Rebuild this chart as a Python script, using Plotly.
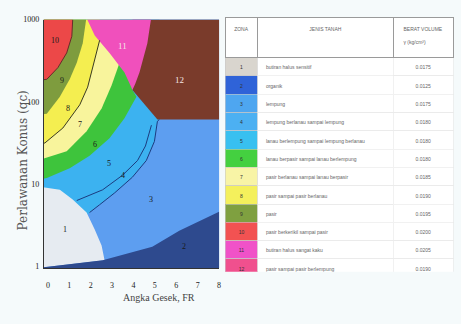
import math
import plotly.graph_objects as go

# ---- Soil behaviour zones: boundary outlines in (friction ratio FR, cone resistance qc) ----
zone3_x = [-0.3, 8.3, 8.3, -0.3]
zone3_y = [0.8, 0.8, 1100, 1100]

zone45_x = [5.21, 5.12, 4.98, 4.60, 3.95, 3.12, 2.42, 1.95, 1.5, -0.3, -0.3, 5.21]
zone45_y = [61, 58, 33, 19.3, 12.1, 7.8, 5.6, 4.5, 3.5, 3.5, 1100, 1100]

zone6_x = [3.95, 4.14, 3.58, 2.88, 1.95, 1.02, -0.05, -0.3, -0.3, 3.95]
zone6_y = [139, 115, 63, 36, 22, 15.5, 11.8, 11.5, 1100, 1100]

zone7_x = [3.35, 2.98, 2.51, 1.81, 0.88, -0.14, -0.3, -0.3, 3.35]
zone7_y = [299, 159, 83, 44, 25, 20.5, 20, 1100, 1100]

zone8_x = [2.42, 2.09, 1.86, 1.49, 0.70, -0.14, -0.3, -0.3, 2.42]
zone8_y = [562, 261, 151, 92, 48, 31.6, 31, 1100, 1100]

zone9_x = [1.81, 1.63, 1.35, 1.02, 0.56, -0.05, -0.3, -0.3, 1.81]
zone9_y = [1100, 518, 299, 188, 115, 71.7, 70, 1100, 1100]

zone10_x = [1.16, 1.12, 0.88, 0.47, -0.05, -0.3, -0.3, 1.16]
zone10_y = [1100, 628, 394, 261, 188, 185, 1100, 1100]

zone12_x = [3.95, 5.12, 8.3, 8.3, 3.95]
zone12_y = [139, 61, 61, 1100, 1100]

zone11_x = [1.77, 2.19, 2.88, 3.58, 3.85, 3.95, 4.08, 4.28, 4.65, 4.84, 1.77]
zone11_y = [1100, 640, 394, 228, 160, 139, 165, 228, 518, 1100, 1100]

zone1_x = [-0.3, 0.56, 1.16, 1.81, 2.19, 2.51, 2.65, -0.19, -0.3]
zone1_y = [9.2, 8.5, 6.5, 4.5, 2.8, 1.78, 1.18, 0.97, 0.9]

zone2_x = [-0.3, -0.19, 2.56, 3.67, 4.88, 6.14, 8.0, 8.3, 8.3, -0.3]
zone2_y = [0.96, 0.97, 1.18, 1.43, 1.73, 2.7, 4.6, 4.7, 0.8, 0.8]

# dividing lines drawn over the fills
line_10_9_x = [1.16, 1.12, 0.88, 0.47, -0.05, -0.3]
line_10_9_y = [1000, 628, 394, 261, 188, 185]
line_8_7_x = [2.42, 2.09, 1.86, 1.49, 0.70, -0.14, -0.3]
line_8_7_y = [562, 261, 151, 92, 48, 31.6, 31]
line_5_4_x = [4.84, 4.56, 4.19, 3.49, 2.56, 1.35]
line_5_4_y = [52, 29, 19.3, 12.8, 8.5, 6.3]
line_4_3_x = [5.21, 5.12, 4.98, 4.60, 3.95, 3.12, 2.42, 1.95]
line_4_3_y = [61, 58, 33, 19.3, 12.1, 7.8, 5.6, 4.5]

# zone number labels
label_text = ["10", "9", "8", "7", "6", "5", "4", "3", "1", "2", "11", "12"]
label_x = [0.33, 0.65, 0.93, 1.49, 2.19, 2.88, 3.49, 4.84, 0.79, 6.37, 3.49, 6.14]
label_qc = [562, 183, 83, 53, 30.6, 17.8, 12.8, 6.5, 2.83, 1.73, 477, 183]

x_ticks = [0, 1, 2, 3, 4, 5, 6, 7, 8]
y_ticks = [1, 10, 100, 1000]

# ---- table ----
zona = ["1", "2", "3", "4", "5", "6", "7", "8", "9", "10", "11", "12"]
jenis_tanah = [
    "butiran halus sensitif",
    "organik",
    "lempung",
    "lempung berlanau sampai lempung",
    "lanau berlempung sampai lempung berlanau",
    "lanau berpasir sampai lanau berlempung",
    "pasir berlanau sampai lanau berpasir",
    "pasir sampai pasir berlanau",
    "pasir",
    "pasir berkerikil sampai pasir",
    "butiran halus sangat kaku",
    "pasir sampai pasir berlempung",
]
berat_volume = ["0.0175", "0.0125", "0.0175", "0.0180", "0.0180", "0.0180",
                "0.0185", "0.0190", "0.0195", "0.0200", "0.0205", "0.0190"]
zona_colors = ["#d9d5ce", "#2f63d8", "#4ea6f0", "#4cb0f2", "#38c0f0", "#44d040",
               "#f8f4a6", "#f4f05c", "#7fa040", "#f25252", "#f052c8", "#f0508e"]

fig = go.Figure()

fills = [
    (zone3_x, zone3_y, "#5d9ef0"),
    (zone45_x, zone45_y, "#3cb2f0"),
    (zone6_x, zone6_y, "#3ec43c"),
    (zone7_x, zone7_y, "#f8f49c"),
    (zone8_x, zone8_y, "#f4ee50"),
    (zone9_x, zone9_y, "#7e9c3e"),
    (zone10_x, zone10_y, "#ec4848"),
    (zone12_x, zone12_y, "#7a3b2b"),
    (zone11_x, zone11_y, "#f050bc"),
    (zone1_x, zone1_y, "#e6ebf1"),
    (zone2_x, zone2_y, "#2e4a8e"),
]
for xs, ys, col in fills:
    fig.add_trace(go.Scatter(x=xs, y=ys, mode="lines", fill="toself",
                             fillcolor=col, line=dict(width=0, color=col),
                             hoverinfo="skip", showlegend=False))

for xs, ys, col in [
    (line_10_9_x, line_10_9_y, "#6a2a2a"),
    (line_8_7_x, line_8_7_y, "#3a3a20"),
    (line_5_4_x, line_5_4_y, "#1c3c80"),
    (line_4_3_x, line_4_3_y, "#1c3c80"),
]:
    fig.add_trace(go.Scatter(x=xs, y=ys, mode="lines",
                             line=dict(width=1, color=col),
                             hoverinfo="skip", showlegend=False))

for t, lx, ly in zip(label_text, label_x, label_qc):
    light = t in ("11", "12")
    fig.add_annotation(x=lx, y=math.log10(ly), xref="x", yref="y", text=t,
                       showarrow=False,
                       font=dict(family="Liberation Serif",
                                 size=9 if light else 8,
                                 color="#f4e6e6" if light else "#1a1a1a"))

fig.add_trace(go.Table(
    domain=dict(x=[226 / 461, 455 / 461], y=[1 - 274 / 324, 1 - 14 / 324]),
    columnwidth=[33, 136, 60],
    header=dict(
        values=["<br>ZONA", "<br>JENIS TANAH", "BERAT VOLUME<br><br>γ (kg/cm³)"],
        fill_color="white",
        line=dict(color="#9a9a9a", width=1),
        align="center",
        height=40,
        font=dict(family="Liberation Sans", size=5, color="#666"),
    ),
    cells=dict(
        values=[zona, jenis_tanah, berat_volume],
        fill_color=[zona_colors, ["white"] * 12, ["white"] * 12],
        line=dict(color=[["#c8c8c8"] * 12, ["#e8e8e8"] * 12, ["#e8e8e8"] * 12], width=0.6),
        align=["center", "left", "center"],
        height=18.3,
        font=dict(family="Liberation Sans", size=5,
                  color=[["#333"] * 12, ["#666"] * 12, ["#666"] * 12]),
    ),
))

fig.update_layout(
    width=461, height=324,
    margin=dict(l=0, r=0, t=0, b=0),
    paper_bgcolor="#f5fafb",
    plot_bgcolor="#5d9ef0",
    showlegend=False,
    xaxis=dict(domain=[44 / 461, 220 / 461], range=[-0.19, 8.0],
               tickvals=x_ticks, ticktext=[str(v) for v in x_ticks],
               ticks="outside", ticklen=9, tickcolor="rgba(0,0,0,0)",
               showgrid=False, zeroline=False,
               showline=True, linecolor="#333", linewidth=1,
               tickfont=dict(family="Liberation Serif", size=8, color="#222")),
    yaxis=dict(domain=[1 - 270 / 324, 1 - 16 / 324], type="log",
               range=[-0.024, 3.0],
               tickvals=y_ticks, ticktext=[str(v) for v in y_ticks],
               ticks="outside", ticklen=2, tickcolor="rgba(0,0,0,0)",
               showgrid=False, zeroline=False,
               showline=True, linecolor="#333", linewidth=1,
               tickfont=dict(family="Liberation Serif", size=8, color="#222")),
)

fig.add_annotation(x=122 / 461, y=1 - 308 / 324, xref="paper", yref="paper",
                   text="Angka Gesek, FR", showarrow=False,
                   font=dict(family="Liberation Serif", size=10, color="#444"))
fig.add_annotation(x=14 / 461, y=1 - 160 / 324, xref="paper", yref="paper",
                   text="Perlawanan Konus (qc)", showarrow=False, textangle=-90,
                   font=dict(family="DejaVu Serif", size=12, color="#555"))

fig.write_html("out.html")
